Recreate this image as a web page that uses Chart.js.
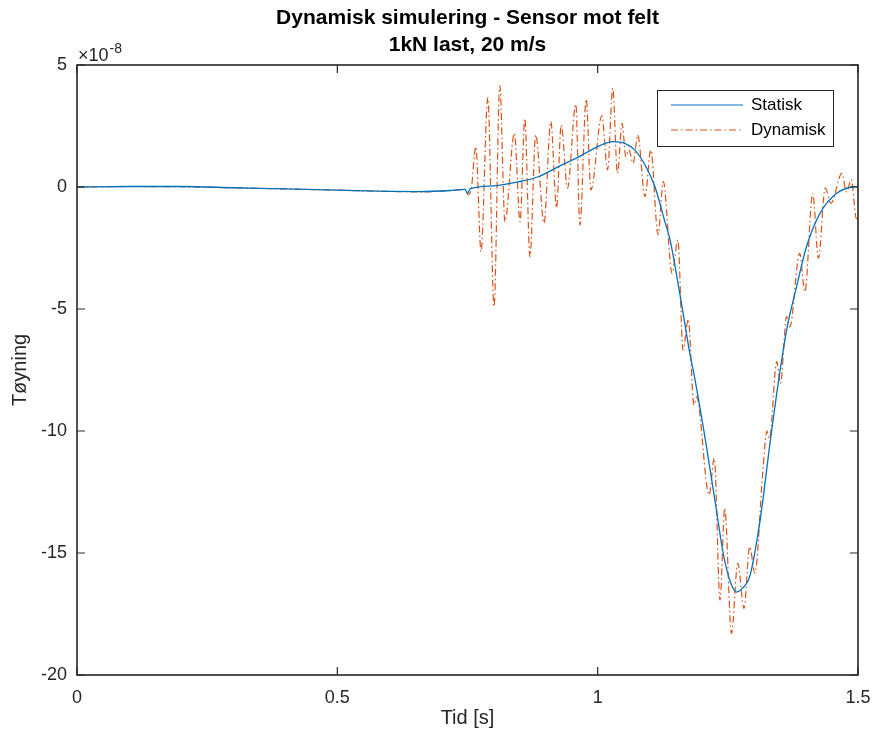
<!DOCTYPE html>
<html>
<head>
<meta charset="utf-8">
<script src="https://cdn.jsdelivr.net/npm/chart.js@4/dist/chart.umd.min.js"></script>
<style>
  html, body { margin: 0; padding: 0; background: #fff; }
  #wrap { width: 874px; height: 737px; }
</style>
</head>
<body>
<div id="wrap"><canvas id="chart" width="874" height="737"></canvas></div>
<script>
// Tid [s] og tøyning (x 1e-8), lest av figuren
const statTime = [0, 0.1, 0.2, 0.3, 0.4, 0.5, 0.6, 0.66, 0.72, 0.745, 0.75, 0.755, 0.8, 0.85, 0.886, 0.937, 0.956, 0.982, 1.014, 1.03, 1.052, 1.071, 1.091, 1.11, 1.129, 1.139, 1.158, 1.177, 1.187, 1.209, 1.229, 1.241, 1.255, 1.267, 1.28, 1.292, 1.312, 1.331, 1.344, 1.363, 1.382, 1.401, 1.427, 1.459, 1.491, 1.5];
const statStrain = [0, 0.02, 0.02, -0.03, -0.08, -0.13, -0.18, -0.19, -0.14, -0.1, -0.25, -0.08, 0.05, 0.22, 0.42, 0.97, 1.15, 1.45, 1.79, 1.86, 1.79, 1.52, 0.9, 0.01, -1.42, -2.17, -4.4, -6.82, -7.9, -10.64, -13.37, -15.0, -16.2, -16.6, -16.4, -15.97, -13.65, -10.5, -8.45, -5.86, -4.09, -2.45, -1.08, -0.26, 0.01, 0.02];

const dynTime = [0, 0.1, 0.2, 0.3, 0.4, 0.5, 0.6, 0.66, 0.72, 0.745, 0.751, 0.757, 0.766, 0.776, 0.789, 0.801, 0.812, 0.822, 0.84, 0.851, 0.86, 0.87, 0.881, 0.897, 0.91, 0.921, 0.93, 0.942, 0.958, 0.966, 0.978, 0.987, 1.008, 1.019, 1.029, 1.038, 1.047, 1.054, 1.06, 1.068, 1.077, 1.091, 1.102, 1.116, 1.126, 1.143, 1.154, 1.164, 1.174, 1.185, 1.19, 1.214, 1.224, 1.235, 1.244, 1.257, 1.269, 1.281, 1.292, 1.302, 1.317, 1.325, 1.33, 1.344, 1.351, 1.363, 1.369, 1.388, 1.398, 1.413, 1.424, 1.437, 1.448, 1.469, 1.478, 1.487, 1.497, 1.5];
const dynStrain = [0, 0.02, 0.01, -0.03, -0.08, -0.13, -0.18, -0.2, -0.14, -0.1, -0.3, -0.1, 1.65, -2.65, 3.66, -4.9, 4.15, -1.42, 2.2, -1.42, 2.81, -2.86, 2.13, -1.48, 2.68, -0.85, 2.54, -0.05, 3.39, -1.56, 3.6, -0.12, 2.92, 0.7, 4.04, 0.56, 2.61, 1.24, 1.52, 0.97, 2.13, -0.4, 1.52, -1.95, 0.22, -3.54, -2.17, -6.68, -5.42, -8.93, -8.6, -12.62, -11.12, -16.93, -13.17, -18.29, -15.42, -17.27, -14.74, -15.83, -11.73, -10.0, -10.3, -7.16, -8.05, -5.31, -5.73, -2.72, -4.29, -0.26, -2.92, -0.05, -0.67, 0.56, -0.2, 0.3, -1.3, -1.1];

const seriesNames = ['Statisk', 'Dynamisk'];
const titleLines = ['Dynamisk simulering - Sensor mot felt', '1kN last, 20 m/s'];
const xTicks = [0, 0.5, 1, 1.5];
const yTicks = [5, 0, -5, -10, -15, -20];

const FONT = '"Liberation Sans", Arial, Helvetica, sans-serif';
const AXIS_COLOR = '#262626';
const BLUE = '#0072BD';
const ORANGE = '#D95319';
const DASH = [7, 3, 1.5, 3];

const toPoints = (xs, ys) => xs.map((x, i) => ({ x, y: ys[i] }));

// tittel, boks, innoverpekende merker, eksponent og forklaring
const matlabAxes = {
    id: 'matlabAxes',
    afterDatasetsDraw(chart) {
        const { ctx, chartArea: a, scales } = chart;
        const tl = 8;
        ctx.save();
        ctx.strokeStyle = AXIS_COLOR;
        ctx.lineWidth = 1.6;
        ctx.strokeRect(a.left, a.top, a.right - a.left, a.bottom - a.top);
        ctx.lineWidth = 1.2;
        ctx.beginPath();
        xTicks.forEach(v => {
            const px = scales.x.getPixelForValue(v);
            ctx.moveTo(px, a.bottom); ctx.lineTo(px, a.bottom - tl);
            ctx.moveTo(px, a.top); ctx.lineTo(px, a.top + tl);
        });
        yTicks.forEach(v => {
            const py = scales.y.getPixelForValue(v);
            ctx.moveTo(a.left, py); ctx.lineTo(a.left + tl, py);
            ctx.moveTo(a.right, py); ctx.lineTo(a.right - tl, py);
        });
        ctx.stroke();

        // tittel over plottet
        const cx = (a.left + a.right) / 2;
        ctx.fillStyle = '#000';
        ctx.textAlign = 'center';
        ctx.textBaseline = 'middle';
        ctx.font = 'bold 21px ' + FONT;
        ctx.fillText(titleLines[0], cx, 18);
        ctx.fillText(titleLines[1], cx, 45);

        // x10^-8
        ctx.fillStyle = AXIS_COLOR;
        ctx.textBaseline = 'alphabetic';
        ctx.textAlign = 'left';
        ctx.font = '18px ' + FONT;
        ctx.fillText('\u00d710', a.left + 1, a.top - 4);
        const w = ctx.measureText('\u00d710').width;
        ctx.font = '14px ' + FONT;
        ctx.fillText('-8', a.left + 2 + w, a.top - 12);

        // forklaring
        const bx = 657, by = 90, bw = 176, bh = 56;
        ctx.fillStyle = '#fff';
        ctx.fillRect(bx, by, bw, bh);
        ctx.strokeStyle = '#262626';
        ctx.lineWidth = 1;
        ctx.strokeRect(bx + 0.5, by + 0.5, bw, bh);
        const rows = [{ c: BLUE, d: [], y: by + 15 }, { c: ORANGE, d: DASH, y: by + 40 }];
        rows.forEach((r, i) => {
            ctx.strokeStyle = r.c;
            ctx.lineWidth = 1.1;
            ctx.setLineDash(r.d);
            ctx.beginPath();
            ctx.moveTo(671, r.y); ctx.lineTo(743, r.y);
            ctx.stroke();
            ctx.setLineDash([]);
            ctx.fillStyle = '#000';
            ctx.font = '17px ' + FONT;
            ctx.textBaseline = 'middle';
            ctx.fillText(seriesNames[i], 751, r.y);
        });
        ctx.restore();
    }
};

new Chart(document.getElementById('chart'), {
    type: 'line',
    data: {
        datasets: [
            { label: seriesNames[0], data: toPoints(statTime, statStrain), borderColor: BLUE, borderWidth: 1.3, pointRadius: 0, cubicInterpolationMode: 'monotone' },
            { label: seriesNames[1], data: toPoints(dynTime, dynStrain), borderColor: ORANGE, borderWidth: 1.2, borderDash: DASH, pointRadius: 0, cubicInterpolationMode: 'monotone' }
        ]
    },
    options: {
        responsive: false, animation: false, events: [],
        layout: { padding: { left: 0, right: 16, top: 65, bottom: 0 } },
        scales: {
            x: {
                type: 'linear', min: 0, max: 1.5,
                grid: { display: false, drawTicks: false },
                border: { display: false },
                afterBuildTicks: (s) => { s.ticks = xTicks.map(v => ({ value: v })); },
                afterFit: (s) => { s.height = 62; s.paddingRight = 0; s.paddingLeft = 0; },
                ticks: { color: AXIS_COLOR, padding: 12, maxRotation: 0, font: { family: FONT, size: 18 }, callback: v => String(v) },
                title: { display: true, text: 'Tid [s]', color: AXIS_COLOR, font: { family: FONT, size: 20 }, padding: { top: 0, bottom: 7 } }
            },
            y: {
                type: 'linear', min: -20, max: 5,
                grid: { display: false, drawTicks: false },
                border: { display: false },
                afterBuildTicks: (s) => { s.ticks = yTicks.map(v => ({ value: v })); },
                afterFit: (s) => { s.width = 77; s.paddingTop = 0; s.paddingBottom = 0; },
                ticks: { color: AXIS_COLOR, padding: 10, font: { family: FONT, size: 18 }, callback: v => String(v) },
                title: { display: true, text: 'T\u00f8yning', color: AXIS_COLOR, font: { family: FONT, size: 20 }, padding: { top: 8, bottom: 0 } }
            }
        },
        plugins: {
            legend: { display: false },
            tooltip: { enabled: false },
            title: { display: false }
        }
    },
    plugins: [matlabAxes]
});
</script>
</body>
</html>
